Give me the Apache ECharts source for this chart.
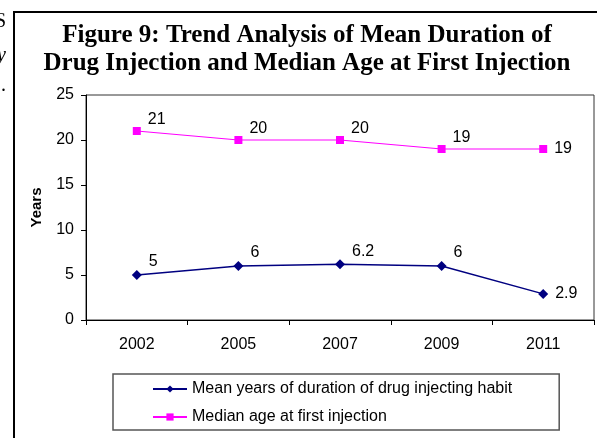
<!DOCTYPE html>
<html>
<head>
<meta charset="utf-8">
<script src="https://cdn.jsdelivr.net/npm/echarts@6/dist/echarts.min.js"></script>
<style>
  html, body { margin: 0; padding: 0; background: #fff; }
  #chart { width: 597px; height: 438px; }
</style>
</head>
<body>
<div id="chart"></div>
<script>
// chart data
var years = ['2002', '2005', '2007', '2009', '2011'];
var meanDuration = [5, 6, 6.2, 6, 2.9];
var medianAge = [21, 20, 20, 19, 19];
var seriesNames = ['Mean years of duration of drug injecting habit', 'Median age at first injection'];
var yTicks = [0, 5, 10, 15, 20, 25];

var chart = echarts.init(document.getElementById('chart'));

function labelled(values) {
    // last point gets its label on the right, the rest sit up-right
    return values.map(function (v, i) {
        if (i === values.length - 1) {
            return { value: v, label: { offset: [2, 0] } };
        }
        return v;
    });
}

var axisFont = { fontFamily: 'Liberation Sans, Arial', fontSize: 16, color: '#000' };

var option = {
    animation: false,
    graphic: [
        { // outer frame of the figure
            type: 'rect', shape: { x: 14, y: 12, width: 800, height: 600 },
            style: { fill: 'none', stroke: '#000', lineWidth: 2 }, silent: true
        },
        // bits of the page text cut off at the left edge
        { type: 'text', x: 6, y: 12, style: { text: 'S', fill: '#000', font: '20px Liberation Serif', textAlign: 'right' } },
        { type: 'text', x: 6, y: 46, style: { text: 'y', fill: '#000', font: 'italic 20px Liberation Serif', textAlign: 'right' } },
        { type: 'text', x: 6, y: 76, style: { text: '.', fill: '#000', font: '20px Liberation Serif', textAlign: 'right' } }
    ],
    title: {
        text: 'Figure 9: Trend Analysis of Mean Duration of\nDrug Injection and Median Age at First Injection',
        left: 302,
        top: 17,
        textAlign: 'center',
        textStyle: {
            fontFamily: 'Liberation Serif, Times New Roman',
            fontWeight: 'bold',
            fontSize: 25,
            lineHeight: 28,
            color: '#000'
        }
    },
    grid: {
        left: 86, right: 3, top: 95, bottom: 118,
        show: true, borderColor: '#333', borderWidth: 1, backgroundColor: '#fff'
    },
    legend: {
        orient: 'vertical',
        left: 113, top: 374,
        height: 50,
        padding: [7, 47, 5, 39],
        itemGap: 12,
        itemWidth: 34,
        itemHeight: 9,
        borderColor: '#555', borderWidth: 1.5,
        data: seriesNames,
        textStyle: axisFont
    },
    xAxis: {
        type: 'category',
        data: years,
        boundaryGap: true,
        axisLine: { lineStyle: { color: '#000', width: 1 } },
        axisTick: { show: true, length: 5, lineStyle: { color: '#000' } },
        axisLabel: Object.assign({ margin: 17 }, axisFont),
        splitLine: { show: false }
    },
    yAxis: {
        type: 'value',
        min: yTicks[0], max: yTicks[yTicks.length - 1], interval: 5,
        name: 'Years',
        nameLocation: 'middle',
        nameGap: 42,
        nameRotate: 90,
        nameTextStyle: { fontFamily: 'Liberation Sans, Arial', fontSize: 15, fontWeight: 'bold', color: '#000' },
        axisLine: { show: true, lineStyle: { color: '#000', width: 1 } },
        axisTick: { show: true, length: 5, lineStyle: { color: '#000' } },
        axisLabel: Object.assign({ margin: 12 }, axisFont),
        splitLine: { show: false }
    },
    series: [
        {
            name: seriesNames[0],
            type: 'line',
            data: labelled(meanDuration),
            symbol: 'diamond', symbolSize: 10,
            itemStyle: { color: '#000080' },
            lineStyle: { color: '#000080', width: 1.5 },
            label: { show: true, position: 'right', distance: 5, offset: [2, -13], fontFamily: 'Liberation Sans, Arial', fontSize: 16, color: '#000' }
        },
        {
            name: seriesNames[1],
            type: 'line',
            data: labelled(medianAge),
            symbol: 'rect', symbolSize: 8,
            itemStyle: { color: '#ff00ff' },
            lineStyle: { color: '#ff00ff', width: 1.2 },
            label: { show: true, position: 'right', distance: 5, offset: [2, -11], fontFamily: 'Liberation Sans, Arial', fontSize: 16, color: '#000' }
        }
    ]
};

chart.setOption(option);
window.addEventListener('resize', function () {
    chart.resize();
});
</script>
</body>
</html>
